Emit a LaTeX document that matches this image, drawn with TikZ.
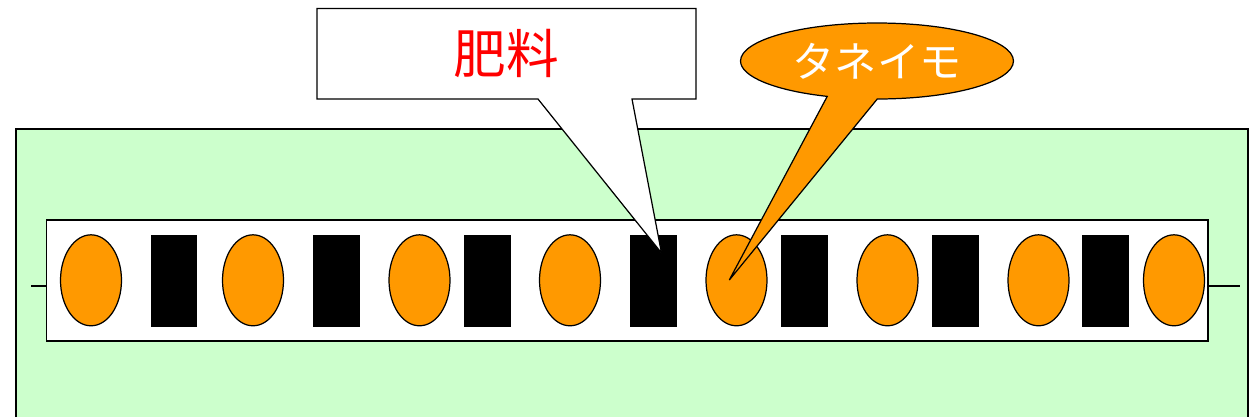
\documentclass[tikz,border=0pt]{standalone}
\usepackage{fontspec}
\usepackage{xcolor}
\usepackage{tikz}
\usetikzlibrary{shapes.geometric,shapes.callouts}
\newfontfamily\jpfont{Noto Sans CJK JP}
\definecolor{field}{HTML}{CCFFCC}
\definecolor{imo}{HTML}{FF9900}

\begin{document}
\begin{tikzpicture}[x=0.02cm,y=0.02cm,line width=0.7pt]
        \useasboundingbox[fill=white] (0,0) rectangle (1249,-417);

        % field and row
        \fill[field] (16,-417) rectangle (1248,-129);
        \draw[line width=0.9pt] (16,-417) -- (16,-129) -- (1248,-129) -- (1248,-417);
        \node[draw,fill=white,inner sep=0pt,minimum width=23.24cm,minimum height=2.42cm] (row) at (627,-280.5) {};
        \coordinate (l) at (31,-286);
        \coordinate (r) at (1240,-286);
        \draw (l) -- (l -| row.west);
        \draw (row.east |- r) -- (r);

        \foreach \x[count=\xi] in {91,253,419.5,570,736.5,887.5,1038.5,1174}
            \node[ellipse,draw,fill=imo,inner sep=0pt,minimum width=1.22cm,minimum height=1.82cm] (e\xi) at (\x,-280.3) {};
        \foreach \x[count=\xi] in {174,336.5,487.5,653.5,804.5,955.5,1105.5}
            \node[fill,rectangle,inner sep=0pt,minimum width=0.94cm,minimum height=1.84cm] (f\xi) at (\x,-280.7) {};

        % callouts
        \coordinate (hiryotip) at (661.5,-253);
        \draw[fill=white] (317,-8.5) -- (696,-8.5) -- (696,-99) -- (632,-99) -- (hiryotip) -- (538,-99) -- (317,-99) -- cycle;
        \node[text=red,font=\jpfont\fontsize{30}{36}\selectfont] (hiryo) at (506.5,-53.5) {肥料};

        \node[ellipse callout,draw,fill=imo,inner sep=0pt,minimum width=5.46cm,minimum height=1.52cm,
            callout absolute pointer={(729.3,-280)},callout pointer arc=21.5,
            text=white,font=\jpfont\fontsize{24}{29}\selectfont] (taneimo) at (877,-61) {タネイモ};
    \end{tikzpicture}
\end{document}
